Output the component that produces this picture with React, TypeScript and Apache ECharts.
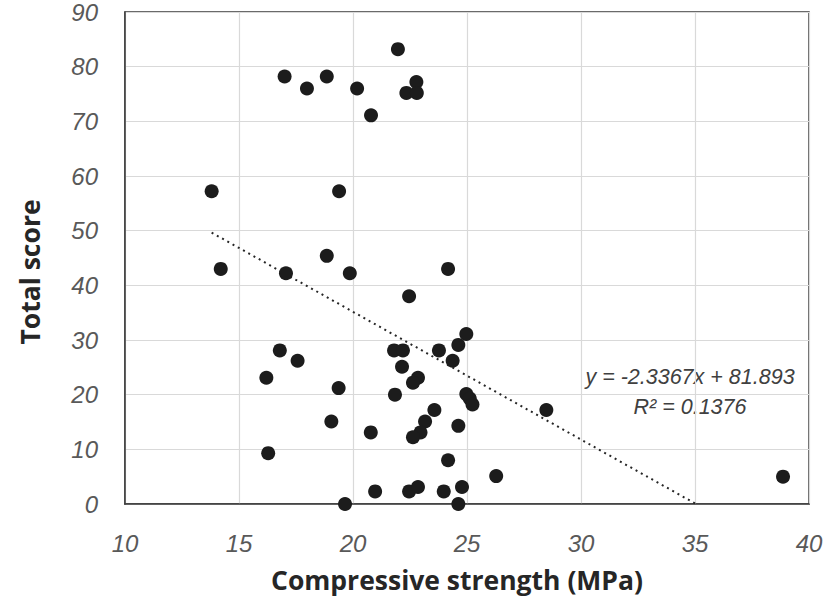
import React, { useEffect, useRef } from "react";
import * as echarts from "echarts";

const strength: number[] = [
  21.97, 17.0, 17.98, 18.85, 20.18, 22.78, 22.34, 22.8, 20.79, 13.8,
  19.39, 18.85, 14.2, 17.06, 19.86, 24.17, 22.46, 24.97, 24.62, 16.79,
  17.57, 21.8, 22.19, 23.77, 24.37, 22.15, 22.85, 22.63, 16.2, 19.37,
  21.84, 24.97, 25.12, 25.24, 23.57, 23.16, 19.05, 24.62, 20.78, 22.96,
  22.63, 16.28, 24.17, 26.28, 20.97, 22.46, 22.85, 23.98, 24.78, 19.65,
  24.62, 28.48, 38.86,
];
const score: number[] = [
  83.2, 78.2, 76.0, 78.2, 76.0, 77.2, 75.2, 75.2, 71.1, 57.2,
  57.2, 45.4, 43.0, 42.2, 42.2, 43.0, 38.0, 31.1, 29.1, 28.1,
  26.2, 28.1, 28.1, 28.1, 26.2, 25.1, 23.1, 22.2, 23.1, 21.2,
  20.0, 20.1, 19.3, 18.2, 17.2, 15.1, 15.1, 14.3, 13.1, 13.1,
  12.2, 9.3, 8.0, 5.1, 2.3, 2.3, 3.1, 2.3, 3.1, 0,
  0, 17.2, 5.0,
];
const slope = -2.3367;
const intercept = 81.893;
const r2 = 0.1376;
const xTicks = [10, 15, 20, 25, 30, 35, 40];
const yTicks = [0, 10, 20, 30, 40, 50, 60, 70, 80, 90];

export default function App() {
  const ref = useRef<HTMLDivElement>(null);
  useEffect(() => {
    if (!ref.current) return;
    const chart = echarts.init(ref.current, undefined, { renderer: "svg" });
    const pts = strength.map((x, i) => [x, score[i]]);
    const xStart = Math.min(...strength);
    const xEnd = -intercept / slope;
    const trend = [
      [xStart, slope * xStart + intercept],
      [xEnd, 0],
    ];
    const labelFont = "'Liberation Sans', 'DejaVu Sans', sans-serif";
    const titleFont = "'Open Sans', 'Liberation Sans', sans-serif";
    chart.setOption({
      animation: false,
      backgroundColor: "#ffffff",
      grid: {
        left: 125,
        top: 12,
        right: 18,
        bottom: 110,
        show: true,
        borderColor: "#3a3a3a",
        borderWidth: 1.5,
      },
      xAxis: {
        type: "value",
        min: xTicks[0],
        max: xTicks[xTicks.length - 1],
        interval: 5,
        axisLine: { show: true, lineStyle: { color: "#3a3a3a", width: 1.5 } },
        axisTick: { show: false },
        splitLine: { show: true, lineStyle: { color: "#d9d9d9", width: 1.2 } },
        axisLabel: {
          margin: 27,
          fontSize: 24,
          fontStyle: "italic",
          color: "#595959",
          fontFamily: labelFont,
        },
      },
      yAxis: {
        type: "value",
        min: yTicks[0],
        max: yTicks[yTicks.length - 1],
        interval: 10,
        axisLine: { show: true, lineStyle: { color: "#3a3a3a", width: 1.5 } },
        axisTick: { show: false },
        splitLine: { show: true, lineStyle: { color: "#d9d9d9", width: 1.2 } },
        axisLabel: {
          margin: 27,
          fontSize: 24,
          fontStyle: "italic",
          color: "#595959",
          fontFamily: labelFont,
        },
      },
      series: [
        {
          type: "line",
          data: trend,
          symbol: "none",
          silent: true,
          lineStyle: { color: "#262626", width: 2, type: [2, 4] },
          z: 2,
        },
        {
          type: "scatter",
          data: pts,
          symbolSize: 14,
          itemStyle: { color: "#1c1c1c", opacity: 1 },
          z: 3,
        },
      ],
      graphic: [
        {
          type: "text",
          x: 457,
          y: 580,
          style: {
            text: "Compressive strength (MPa)",
            font: `bold 26.5px ${titleFont}`,
            fill: "#262626",
            align: "center",
            verticalAlign: "middle",
          },
        },
        {
          type: "text",
          x: 30,
          y: 272,
          rotation: Math.PI / 2,
          style: {
            text: "Total score",
            font: `bold 26.5px ${titleFont}`,
            fill: "#262626",
            align: "center",
            verticalAlign: "middle",
          },
        },
        {
          type: "text",
          x: 690,
          y: 377,
          style: {
            text: `y = ${slope}x + ${intercept}`,
            font: `italic 21.5px ${labelFont}`,
            fill: "#404040",
            align: "center",
            verticalAlign: "middle",
          },
        },
        {
          type: "text",
          x: 690,
          y: 407,
          style: {
            text: `R² = ${r2}`,
            font: `italic 21.5px ${labelFont}`,
            fill: "#404040",
            align: "center",
            verticalAlign: "middle",
          },
        },
      ],
    });
    return () => chart.dispose();
  }, []);
  return (
    <div
      ref={ref}
      style={{ position: "fixed", left: 0, top: 0, width: 827, height: 614 }}
    />
  );
}
